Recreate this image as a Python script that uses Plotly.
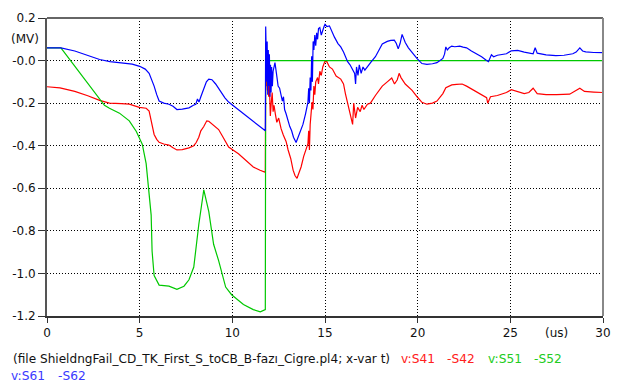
import plotly.graph_objects as go

# Time axis in microseconds, voltages in MV
t_s41 = [0, 0.7, 1.5, 2.2, 2.84, 3.37, 4.0, 4.44, 4.98, 5.35, 5.51, 5.65, 5.78, 5.92, 6.05, 6.3, 6.58, 6.8,
         7.01, 7.3, 7.66, 7.92, 8.05, 8.19, 8.3, 8.46, 8.62, 8.73, 8.95, 9.26, 9.5, 9.8, 10.33, 10.7, 11.13,
         11.5, 11.78, 11.80, 11.83, 11.86, 11.89, 11.92, 11.96, 12.0, 12.05, 12.1, 12.15, 12.2, 12.25, 12.32,
         12.4, 12.5, 12.63, 12.75, 12.9, 13.01, 13.15, 13.28, 13.38, 13.49, 13.6, 13.71, 13.85, 13.98, 14.08,
         14.12, 14.16, 14.2, 14.25, 14.3, 14.35, 14.4, 14.45, 14.5, 14.6, 14.65, 14.72, 14.8, 14.88, 14.99,
         15.1, 15.24, 15.4, 15.6, 15.85, 16.0, 16.1, 16.35, 16.49, 16.55, 16.65, 16.76, 16.9, 17.0, 17.1,
         17.29, 17.45, 17.72, 17.9, 18.09, 18.36, 18.6, 18.75, 18.9, 19.0, 19.1, 19.33, 19.5, 19.7, 19.97,
         20.23, 20.5, 20.8, 21.04, 21.2, 21.36, 21.52, 21.84, 22.1, 22.4, 22.64, 22.8, 23.18, 23.5, 23.72,
         23.78, 23.93, 24.3, 24.79, 25.05, 25.4, 25.75, 26.0, 26.23, 26.45, 26.93, 27.5, 28.2, 28.75, 29.0,
         29.5, 30.0]
v_s41 = [-0.123, -0.128, -0.145, -0.165, -0.187, -0.2, -0.202, -0.205, -0.22, -0.224, -0.237, -0.3, -0.347,
         -0.37, -0.384, -0.392, -0.397, -0.41, -0.42, -0.418, -0.41, -0.4, -0.385, -0.36, -0.33, -0.31,
         -0.283, -0.285, -0.3, -0.324, -0.36, -0.406, -0.438, -0.465, -0.5, -0.515, -0.525, -0.06, -0.12,
         -0.05, -0.14, -0.08, -0.17, -0.11, -0.26, -0.2, -0.15, -0.24, -0.21, -0.25, -0.29, -0.27, -0.32,
         -0.35, -0.38, -0.42, -0.46, -0.515, -0.54, -0.553, -0.53, -0.5, -0.45, -0.41, -0.39, -0.33, -0.42,
         -0.3, -0.26, -0.195, -0.23, -0.12, -0.16, -0.1, -0.08, -0.11, -0.05, -0.07, -0.03, -0.005, -0.005,
         -0.03, -0.04, -0.073, -0.087, -0.11, -0.155, -0.24, -0.3, -0.2, -0.27, -0.22, -0.24, -0.21, -0.23,
         -0.205, -0.2, -0.164, -0.14, -0.12, -0.1, -0.082, -0.11, -0.09, -0.06, -0.08, -0.11, -0.125, -0.14,
         -0.17, -0.196, -0.205, -0.2, -0.19, -0.17, -0.155, -0.128, -0.114, -0.112, -0.11, -0.12, -0.128,
         -0.145, -0.165, -0.174, -0.2, -0.17, -0.164, -0.15, -0.137, -0.145, -0.155, -0.15, -0.13, -0.155,
         -0.16, -0.16, -0.158, -0.13, -0.145, -0.148, -0.15]

t_s51 = [0, 0.75, 3.10, 3.37, 3.91, 4.44, 4.82, 5.14, 5.35, 5.51, 5.62, 5.67, 5.78, 6.05, 6.58, 7.01, 7.39,
         7.66, 7.92, 8.19, 8.46, 8.73, 8.99, 9.26, 9.64, 9.96, 10.6, 11.13, 11.51, 11.78, 11.80, 30.0]
v_s51 = [0.06, 0.06, -0.21, -0.224, -0.247, -0.283, -0.333, -0.393, -0.484, -0.62, -0.726, -0.895, -1.01,
         -1.055, -1.06, -1.075, -1.06, -1.03, -0.97, -0.77, -0.607, -0.71, -0.863, -0.94, -1.064, -1.1,
         -1.146, -1.17, -1.18, -1.17, 0.0, 0.0]

t_s61 = [0, 0.75, 1.5, 2.2, 2.84, 3.4, 4.0, 4.6, 5.0, 5.3, 5.51, 5.65, 5.78, 5.92, 6.05, 6.3, 6.58, 6.8, 7.01,
         7.3, 7.66, 7.9, 8.03, 8.12, 8.2, 8.3, 8.46, 8.6, 8.73, 8.9, 9.1, 9.37, 9.6, 9.8, 10.33, 10.7, 11.13,
         11.5, 11.78, 11.80, 11.82, 11.84, 11.86, 11.88, 11.91, 11.94, 11.97, 12.0, 12.03, 12.06, 12.09,
         12.12, 12.16, 12.2, 12.25, 12.3, 12.38, 12.47, 12.55, 12.63, 12.7, 12.76, 12.82, 12.9, 13.01, 13.1,
         13.2, 13.3, 13.44, 13.55, 13.7, 13.81, 13.95, 14.08, 14.12, 14.16, 14.2, 14.24, 14.28, 14.32, 14.36,
         14.4, 14.45, 14.5, 14.55, 14.6, 14.65, 14.72, 14.8, 14.88, 14.95, 15.0, 15.1, 15.24, 15.35, 15.51,
         15.7, 15.85, 16.0, 16.22, 16.35, 16.49, 16.6, 16.65, 16.7, 16.78, 16.85, 16.95, 17.05, 17.15, 17.29,
         17.5, 17.72, 17.9, 18.09, 18.36, 18.55, 18.74, 18.85, 18.95, 19.05, 19.16, 19.25, 19.33, 19.5, 19.7,
         19.97, 20.23, 20.5, 20.8, 21.04, 21.36, 21.45, 21.52, 21.6, 21.7, 21.84, 22.0, 22.27, 22.45, 22.64,
         22.9, 23.18, 23.45, 23.72, 23.82, 23.98, 24.1, 24.3, 24.79, 25.05, 25.4, 25.75, 26.0, 26.23, 26.34,
         26.45, 26.93, 27.46, 27.9, 28.37, 28.55, 28.75, 28.9, 29.07, 29.5, 30.0]
v_s61 = [0.06, 0.06, 0.045, 0.025, 0.005, -0.005, -0.01, -0.017, -0.027, -0.04, -0.06, -0.09, -0.12, -0.16,
         -0.19, -0.2, -0.205, -0.215, -0.23, -0.228, -0.222, -0.21, -0.205, -0.18, -0.195, -0.17, -0.13, -0.1,
         -0.087, -0.09, -0.11, -0.146, -0.175, -0.195, -0.23, -0.255, -0.283, -0.31, -0.33, 0.16, -0.05, 0.12,
         -0.1, 0.09, -0.16, 0.05, -0.12, 0.03, -0.17, -0.02, -0.15, -0.03, -0.12, -0.05, -0.02, -0.01, -0.06,
         -0.12, -0.13, -0.16, -0.19, -0.17, -0.23, -0.25, -0.29, -0.31, -0.33, -0.36, -0.385, -0.36, -0.33,
         -0.3, -0.25, -0.195, -0.13, -0.2, -0.08, -0.14, 0.02, -0.1, 0.09, 0.05, 0.12, 0.07, 0.13, 0.1, 0.15,
         0.155, 0.12, 0.146, 0.16, 0.17, 0.16, 0.163, 0.14, 0.11, 0.08, 0.064, 0.04, -0.005, -0.02, -0.04,
         -0.06, -0.11, -0.03, -0.07, -0.02, -0.06, -0.03, -0.045, -0.027, -0.005, 0.018, 0.05, 0.078, 0.09,
         0.095, 0.096, 0.08, 0.055, 0.08, 0.123, 0.1, 0.085, 0.06, 0.037, 0.009, -0.014, -0.018, -0.015,
         -0.01, 0.01, 0.03, 0.064, 0.05, 0.06, 0.068, 0.065, 0.068, 0.063, 0.06, 0.045, 0.032, 0.018, 0.0,
         -0.005, 0.027, 0.018, 0.025, 0.032, 0.046, 0.048, 0.04, 0.035, 0.032, 0.06, 0.035, 0.027, 0.023,
         0.025, 0.032, 0.04, 0.06, 0.045, 0.041, 0.038, 0.037]

x_ticks = [0, 5, 10, 15, 20, 25, 30]
y_ticks = [0.2, 0.0, -0.2, -0.4, -0.6, -0.8, -1.0, -1.2]
y_tick_text = ["0.2", "-0.0", "-0.2", "-0.4", "-0.6", "-0.8", "-1.0", "-1.2"]

FONT = "DejaVu Sans"
W, H = 622, 388
ML, MR, MT, MB = 47, 14, 11, 72
PW, PH = W - ML - MR, H - MT - MB

fig = go.Figure()
fig.add_trace(go.Scatter(x=t_s41, y=v_s41, mode="lines", line=dict(color="#ff0000", width=1.2)))
fig.add_trace(go.Scatter(x=t_s51, y=v_s51, mode="lines", line=dict(color="#00c800", width=1.2)))
fig.add_trace(go.Scatter(x=t_s61, y=v_s61, mode="lines", line=dict(color="#0000ff", width=1.2)))

grid = dict(showgrid=True, gridcolor="#000000", gridwidth=1, griddash="1px,2px", zeroline=False)

fig.update_layout(
    width=W, height=H, showlegend=False,
    margin=dict(l=ML, r=MR, t=MT, b=MB),
    paper_bgcolor="white", plot_bgcolor="white",
    font=dict(family=FONT, size=12, color="#111111"),
    xaxis=dict(range=[0, 30], tickvals=x_ticks, ticks="outside", ticklen=5, tickcolor="#333333",
               showline=True, linecolor="#333333", linewidth=2, **grid),
    yaxis=dict(range=[-1.2, 0.2], tickvals=y_ticks, ticktext=y_tick_text, ticks="outside", ticklen=7,
               tickcolor="#333333", showline=True, linecolor="#555555", linewidth=2, **grid),
)

# frame on the top and right sides
fig.add_shape(type="line", xref="paper", yref="paper", x0=0, x1=1, y0=1, y1=1,
              line=dict(color="#666666", width=2))
fig.add_shape(type="line", xref="paper", yref="paper", x0=1, x1=1, y0=0, y1=1,
              line=dict(color="#888888", width=2))


def px_x(px):
    return (px - ML) / PW


def px_y(py):
    return (H - MB - py) / PH


def label(text, px, py, color="#111111", anchor="left", size=12.2):
    fig.add_annotation(text=text, xref="paper", yref="paper", x=px_x(px), y=px_y(py),
                       xanchor=anchor, yanchor="middle", showarrow=False,
                       font=dict(family=FONT, size=size, color=color))


label("(MV)", 41, 32, anchor="right", size=12)
label("(us)", 561, 333, anchor="center", size=12)
label("(file ShieldngFail_CD_TK_First_S_toCB_B-fazı_Cigre.pl4; x-var t)", 11, 360, size=12.1)
label("v:S41", 402, 360, color="#ff2020")
label("-S42", 449, 360, color="#ff2020")
label("v:S51", 490, 360, color="#22cc22")
label("-S52", 536, 360, color="#22cc22")
label("v:S61", 9, 377, color="#3b3bff")
label("-S62", 56, 377, color="#3b3bff")

fig.write_html("out.html")
